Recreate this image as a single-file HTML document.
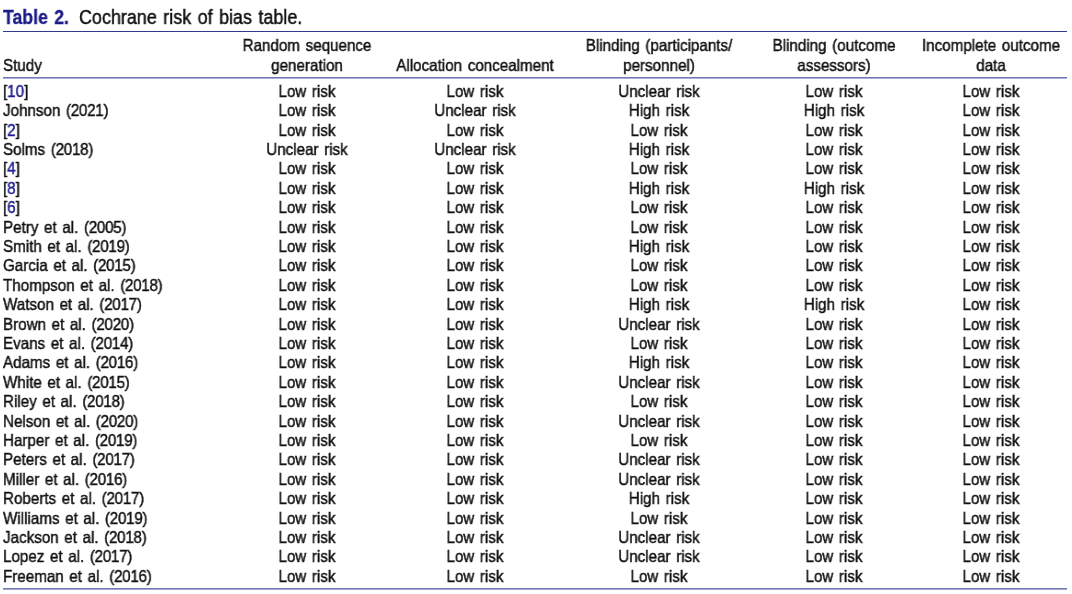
<!DOCTYPE html><html><head><meta charset="utf-8"><style>
html,body{margin:0;padding:0;background:#fff;width:1072px;height:594px;overflow:hidden;position:relative}
body{font-family:"Liberation Sans",sans-serif;color:#111111}
.t,.ttl{will-change:transform;-webkit-text-stroke:0.45px #111111}
.t{position:absolute;white-space:nowrap;line-height:1;font-size:16.5px;letter-spacing:0px;word-spacing:1.5px}
.c{transform:translateX(-50%) scaleX(0.92)}
.l{transform-origin:0 0;transform:scaleX(0.92)}
.t b{font-weight:normal;color:#20208f;-webkit-text-stroke-color:#20208f}
.t i{font-style:normal;letter-spacing:-0.3px}
.ln{position:absolute;left:3px;width:1064px}
.ttl{position:absolute;white-space:nowrap;line-height:1;font-size:19.5px;letter-spacing:0px;word-spacing:1.6px}
.tl{transform-origin:0 0;transform:scaleX(0.906)}
.ttl span{font-weight:bold;color:#1c1c88;-webkit-text-stroke:0.3px #1c1c88}
</style></head><body>
<div class="ttl tl" style="left:2.6px;top:8.09px"><span>Table 2.</span></div>
<div class="ttl tl" style="left:78.8px;top:8.19px;color:#111111;transform:scaleX(0.92)">Cochrane risk of bias table.</div>
<div class="ln" style="top:31px;height:1px;background:#33388f"></div>
<div class="ln" style="top:77px;height:1px;background:#7377b5"></div>
<div class="ln" style="top:78px;height:1px;background:#aaadd3"></div>
<div class="ln" style="top:588px;height:1px;background:#767ab5"></div>
<div class="ln" style="top:589px;height:1px;background:#a3a6ce"></div>
<div class="t l" style="left:3.00px;top:56.73px">Study</div>
<div class="t c" style="left:307.00px;top:36.63px">Random sequence</div>
<div class="t c" style="left:307.00px;top:56.73px">generation</div>
<div class="t c" style="left:475.00px;top:56.73px">Allocation concealment</div>
<div class="t c" style="left:658.80px;top:36.63px">Blinding (participants/</div>
<div class="t c" style="left:658.80px;top:56.73px">personnel)</div>
<div class="t c" style="left:834.00px;top:36.63px">Blinding (outcome</div>
<div class="t c" style="left:834.00px;top:56.73px">assessors)</div>
<div class="t c" style="left:991.40px;top:36.63px">Incomplete outcome</div>
<div class="t c" style="left:991.40px;top:56.73px">data</div>
<div class="t l" style="left:3.00px;top:82.83px">[<b>10</b>]</div>
<div class="t c" style="left:307.00px;top:82.83px">Low risk</div>
<div class="t c" style="left:475.00px;top:82.83px">Low risk</div>
<div class="t c" style="left:658.80px;top:82.83px">Unclear risk</div>
<div class="t c" style="left:834.00px;top:82.83px">Low risk</div>
<div class="t c" style="left:991.40px;top:82.83px">Low risk</div>
<div class="t l" style="left:3.00px;top:102.23px">Johnson <i>(2021)</i></div>
<div class="t c" style="left:307.00px;top:102.23px">Low risk</div>
<div class="t c" style="left:475.00px;top:102.23px">Unclear risk</div>
<div class="t c" style="left:658.80px;top:102.23px">High risk</div>
<div class="t c" style="left:834.00px;top:102.23px">High risk</div>
<div class="t c" style="left:991.40px;top:102.23px">Low risk</div>
<div class="t l" style="left:3.00px;top:121.63px">[<b>2</b>]</div>
<div class="t c" style="left:307.00px;top:121.63px">Low risk</div>
<div class="t c" style="left:475.00px;top:121.63px">Low risk</div>
<div class="t c" style="left:658.80px;top:121.63px">Low risk</div>
<div class="t c" style="left:834.00px;top:121.63px">Low risk</div>
<div class="t c" style="left:991.40px;top:121.63px">Low risk</div>
<div class="t l" style="left:3.00px;top:141.03px">Solms <i>(2018)</i></div>
<div class="t c" style="left:307.00px;top:141.03px">Unclear risk</div>
<div class="t c" style="left:475.00px;top:141.03px">Unclear risk</div>
<div class="t c" style="left:658.80px;top:141.03px">High risk</div>
<div class="t c" style="left:834.00px;top:141.03px">Low risk</div>
<div class="t c" style="left:991.40px;top:141.03px">Low risk</div>
<div class="t l" style="left:3.00px;top:160.43px">[<b>4</b>]</div>
<div class="t c" style="left:307.00px;top:160.43px">Low risk</div>
<div class="t c" style="left:475.00px;top:160.43px">Low risk</div>
<div class="t c" style="left:658.80px;top:160.43px">Low risk</div>
<div class="t c" style="left:834.00px;top:160.43px">Low risk</div>
<div class="t c" style="left:991.40px;top:160.43px">Low risk</div>
<div class="t l" style="left:3.00px;top:179.83px">[<b>8</b>]</div>
<div class="t c" style="left:307.00px;top:179.83px">Low risk</div>
<div class="t c" style="left:475.00px;top:179.83px">Low risk</div>
<div class="t c" style="left:658.80px;top:179.83px">High risk</div>
<div class="t c" style="left:834.00px;top:179.83px">High risk</div>
<div class="t c" style="left:991.40px;top:179.83px">Low risk</div>
<div class="t l" style="left:3.00px;top:199.23px">[<b>6</b>]</div>
<div class="t c" style="left:307.00px;top:199.23px">Low risk</div>
<div class="t c" style="left:475.00px;top:199.23px">Low risk</div>
<div class="t c" style="left:658.80px;top:199.23px">Low risk</div>
<div class="t c" style="left:834.00px;top:199.23px">Low risk</div>
<div class="t c" style="left:991.40px;top:199.23px">Low risk</div>
<div class="t l" style="left:3.00px;top:218.63px">Petry et al. <i>(2005)</i></div>
<div class="t c" style="left:307.00px;top:218.63px">Low risk</div>
<div class="t c" style="left:475.00px;top:218.63px">Low risk</div>
<div class="t c" style="left:658.80px;top:218.63px">Low risk</div>
<div class="t c" style="left:834.00px;top:218.63px">Low risk</div>
<div class="t c" style="left:991.40px;top:218.63px">Low risk</div>
<div class="t l" style="left:3.00px;top:238.03px">Smith et al. <i>(2019)</i></div>
<div class="t c" style="left:307.00px;top:238.03px">Low risk</div>
<div class="t c" style="left:475.00px;top:238.03px">Low risk</div>
<div class="t c" style="left:658.80px;top:238.03px">High risk</div>
<div class="t c" style="left:834.00px;top:238.03px">Low risk</div>
<div class="t c" style="left:991.40px;top:238.03px">Low risk</div>
<div class="t l" style="left:3.00px;top:257.43px">Garcia et al. <i>(2015)</i></div>
<div class="t c" style="left:307.00px;top:257.43px">Low risk</div>
<div class="t c" style="left:475.00px;top:257.43px">Low risk</div>
<div class="t c" style="left:658.80px;top:257.43px">Low risk</div>
<div class="t c" style="left:834.00px;top:257.43px">Low risk</div>
<div class="t c" style="left:991.40px;top:257.43px">Low risk</div>
<div class="t l" style="left:3.00px;top:276.83px">Thompson et al. <i>(2018)</i></div>
<div class="t c" style="left:307.00px;top:276.83px">Low risk</div>
<div class="t c" style="left:475.00px;top:276.83px">Low risk</div>
<div class="t c" style="left:658.80px;top:276.83px">Low risk</div>
<div class="t c" style="left:834.00px;top:276.83px">Low risk</div>
<div class="t c" style="left:991.40px;top:276.83px">Low risk</div>
<div class="t l" style="left:3.00px;top:296.23px">Watson et al. <i>(2017)</i></div>
<div class="t c" style="left:307.00px;top:296.23px">Low risk</div>
<div class="t c" style="left:475.00px;top:296.23px">Low risk</div>
<div class="t c" style="left:658.80px;top:296.23px">High risk</div>
<div class="t c" style="left:834.00px;top:296.23px">High risk</div>
<div class="t c" style="left:991.40px;top:296.23px">Low risk</div>
<div class="t l" style="left:3.00px;top:315.63px">Brown et al. <i>(2020)</i></div>
<div class="t c" style="left:307.00px;top:315.63px">Low risk</div>
<div class="t c" style="left:475.00px;top:315.63px">Low risk</div>
<div class="t c" style="left:658.80px;top:315.63px">Unclear risk</div>
<div class="t c" style="left:834.00px;top:315.63px">Low risk</div>
<div class="t c" style="left:991.40px;top:315.63px">Low risk</div>
<div class="t l" style="left:3.00px;top:335.03px">Evans et al. <i>(2014)</i></div>
<div class="t c" style="left:307.00px;top:335.03px">Low risk</div>
<div class="t c" style="left:475.00px;top:335.03px">Low risk</div>
<div class="t c" style="left:658.80px;top:335.03px">Low risk</div>
<div class="t c" style="left:834.00px;top:335.03px">Low risk</div>
<div class="t c" style="left:991.40px;top:335.03px">Low risk</div>
<div class="t l" style="left:3.00px;top:354.43px">Adams et al. <i>(2016)</i></div>
<div class="t c" style="left:307.00px;top:354.43px">Low risk</div>
<div class="t c" style="left:475.00px;top:354.43px">Low risk</div>
<div class="t c" style="left:658.80px;top:354.43px">High risk</div>
<div class="t c" style="left:834.00px;top:354.43px">Low risk</div>
<div class="t c" style="left:991.40px;top:354.43px">Low risk</div>
<div class="t l" style="left:3.00px;top:373.83px">White et al. <i>(2015)</i></div>
<div class="t c" style="left:307.00px;top:373.83px">Low risk</div>
<div class="t c" style="left:475.00px;top:373.83px">Low risk</div>
<div class="t c" style="left:658.80px;top:373.83px">Unclear risk</div>
<div class="t c" style="left:834.00px;top:373.83px">Low risk</div>
<div class="t c" style="left:991.40px;top:373.83px">Low risk</div>
<div class="t l" style="left:3.00px;top:393.23px">Riley et al. <i>(2018)</i></div>
<div class="t c" style="left:307.00px;top:393.23px">Low risk</div>
<div class="t c" style="left:475.00px;top:393.23px">Low risk</div>
<div class="t c" style="left:658.80px;top:393.23px">Low risk</div>
<div class="t c" style="left:834.00px;top:393.23px">Low risk</div>
<div class="t c" style="left:991.40px;top:393.23px">Low risk</div>
<div class="t l" style="left:3.00px;top:412.63px">Nelson et al. <i>(2020)</i></div>
<div class="t c" style="left:307.00px;top:412.63px">Low risk</div>
<div class="t c" style="left:475.00px;top:412.63px">Low risk</div>
<div class="t c" style="left:658.80px;top:412.63px">Unclear risk</div>
<div class="t c" style="left:834.00px;top:412.63px">Low risk</div>
<div class="t c" style="left:991.40px;top:412.63px">Low risk</div>
<div class="t l" style="left:3.00px;top:432.03px">Harper et al. <i>(2019)</i></div>
<div class="t c" style="left:307.00px;top:432.03px">Low risk</div>
<div class="t c" style="left:475.00px;top:432.03px">Low risk</div>
<div class="t c" style="left:658.80px;top:432.03px">Low risk</div>
<div class="t c" style="left:834.00px;top:432.03px">Low risk</div>
<div class="t c" style="left:991.40px;top:432.03px">Low risk</div>
<div class="t l" style="left:3.00px;top:451.43px">Peters et al. <i>(2017)</i></div>
<div class="t c" style="left:307.00px;top:451.43px">Low risk</div>
<div class="t c" style="left:475.00px;top:451.43px">Low risk</div>
<div class="t c" style="left:658.80px;top:451.43px">Unclear risk</div>
<div class="t c" style="left:834.00px;top:451.43px">Low risk</div>
<div class="t c" style="left:991.40px;top:451.43px">Low risk</div>
<div class="t l" style="left:3.00px;top:470.83px">Miller et al. <i>(2016)</i></div>
<div class="t c" style="left:307.00px;top:470.83px">Low risk</div>
<div class="t c" style="left:475.00px;top:470.83px">Low risk</div>
<div class="t c" style="left:658.80px;top:470.83px">Unclear risk</div>
<div class="t c" style="left:834.00px;top:470.83px">Low risk</div>
<div class="t c" style="left:991.40px;top:470.83px">Low risk</div>
<div class="t l" style="left:3.00px;top:490.23px">Roberts et al. <i>(2017)</i></div>
<div class="t c" style="left:307.00px;top:490.23px">Low risk</div>
<div class="t c" style="left:475.00px;top:490.23px">Low risk</div>
<div class="t c" style="left:658.80px;top:490.23px">High risk</div>
<div class="t c" style="left:834.00px;top:490.23px">Low risk</div>
<div class="t c" style="left:991.40px;top:490.23px">Low risk</div>
<div class="t l" style="left:3.00px;top:509.63px">Williams et al. <i>(2019)</i></div>
<div class="t c" style="left:307.00px;top:509.63px">Low risk</div>
<div class="t c" style="left:475.00px;top:509.63px">Low risk</div>
<div class="t c" style="left:658.80px;top:509.63px">Low risk</div>
<div class="t c" style="left:834.00px;top:509.63px">Low risk</div>
<div class="t c" style="left:991.40px;top:509.63px">Low risk</div>
<div class="t l" style="left:3.00px;top:529.03px">Jackson et al. <i>(2018)</i></div>
<div class="t c" style="left:307.00px;top:529.03px">Low risk</div>
<div class="t c" style="left:475.00px;top:529.03px">Low risk</div>
<div class="t c" style="left:658.80px;top:529.03px">Unclear risk</div>
<div class="t c" style="left:834.00px;top:529.03px">Low risk</div>
<div class="t c" style="left:991.40px;top:529.03px">Low risk</div>
<div class="t l" style="left:3.00px;top:548.43px">Lopez et al. <i>(2017)</i></div>
<div class="t c" style="left:307.00px;top:548.43px">Low risk</div>
<div class="t c" style="left:475.00px;top:548.43px">Low risk</div>
<div class="t c" style="left:658.80px;top:548.43px">Unclear risk</div>
<div class="t c" style="left:834.00px;top:548.43px">Low risk</div>
<div class="t c" style="left:991.40px;top:548.43px">Low risk</div>
<div class="t l" style="left:3.00px;top:567.83px">Freeman et al. <i>(2016)</i></div>
<div class="t c" style="left:307.00px;top:567.83px">Low risk</div>
<div class="t c" style="left:475.00px;top:567.83px">Low risk</div>
<div class="t c" style="left:658.80px;top:567.83px">Low risk</div>
<div class="t c" style="left:834.00px;top:567.83px">Low risk</div>
<div class="t c" style="left:991.40px;top:567.83px">Low risk</div>
</body></html>
